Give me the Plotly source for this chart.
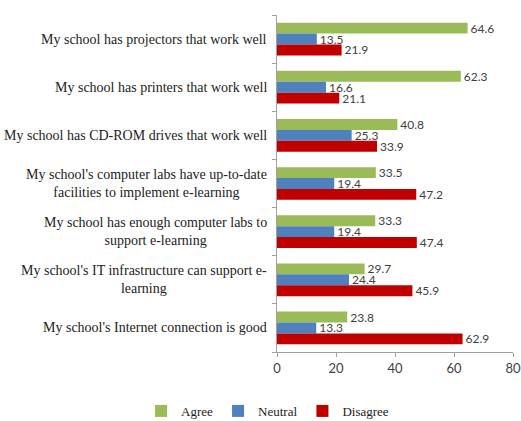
import plotly.graph_objects as go

categories = [
    "My school has projectors that work well",
    "My school has printers that work well",
    "My school has CD-ROM drives that work well",
    "My school's computer labs have up-to-date<br>facilities to implement e-learning",
    "My school has enough computer labs to<br>support e-learning",
    "My school's IT infrastructure can support e-<br>learning",
    "My school's Internet connection is good",
]
agree = [64.6, 62.3, 40.8, 33.5, 33.3, 29.7, 23.8]
neutral = [13.5, 16.6, 25.3, 19.4, 19.4, 24.4, 13.3]
disagree = [21.9, 21.1, 33.9, 47.2, 47.4, 45.9, 62.9]
x_ticks = [0, 20, 40, 60, 80]

series = [("Agree", agree, "#9BBB59"), ("Neutral", neutral, "#4F81BD"), ("Disagree", disagree, "#C00000")]

SERIF = "Liberation Serif, Times New Roman, serif"
SANS = "Lato"

fig = go.Figure()
for name, vals, col in series:
    fig.add_trace(go.Bar(
        y=list(range(len(categories))), x=vals, name=name, orientation="h",
        marker=dict(color=col, line=dict(width=0)),
        text=[f"{v:.1f}" for v in vals], textposition="outside",
        constraintext="none",
        textfont=dict(family=SANS, size=12, color="#404040"),
        cliponaxis=False,
    ))

for i, c in enumerate(categories):
    fig.add_annotation(
        x=0, xref="paper", y=i, yref="y", text=c, showarrow=False,
        xanchor="right", yanchor="middle", align="center", xshift=-8,
        font=dict(family=SERIF, size=14, color="#222222"),
    )

fig.update_layout(
    width=521, height=421,
    margin=dict(l=277, r=8, t=15, b=69, autoexpand=False),
    paper_bgcolor="white", plot_bgcolor="white",
    barmode="group", bargap=0.32, bargroupgap=0,
    showlegend=True,
    legend=dict(orientation="h", xref="paper", x=-0.576, xanchor="left",
                yref="paper", y=-0.175, yanchor="middle",
                font=dict(family=SERIF, size=13, color="#222222"),
                itemwidth=30, traceorder="normal"),
    xaxis=dict(range=[0, 80], tickvals=x_ticks, showgrid=False, zeroline=False,
               automargin=False,
               showline=True, linecolor="#A0A0A0", ticks="outside", tickcolor="#A0A0A0", ticklen=4,
               tickfont=dict(family=SANS, size=13, color="#404040")),
    yaxis=dict(range=[6.5, -0.5], showticklabels=False, showgrid=False, zeroline=False,
               automargin=False,
               showline=True, linecolor="#A0A0A0", ticks="outside", tickcolor="#A0A0A0", ticklen=4,
               tickvals=[i + 0.5 for i in range(-1, 7)]),
)

fig.write_html("out.html")
